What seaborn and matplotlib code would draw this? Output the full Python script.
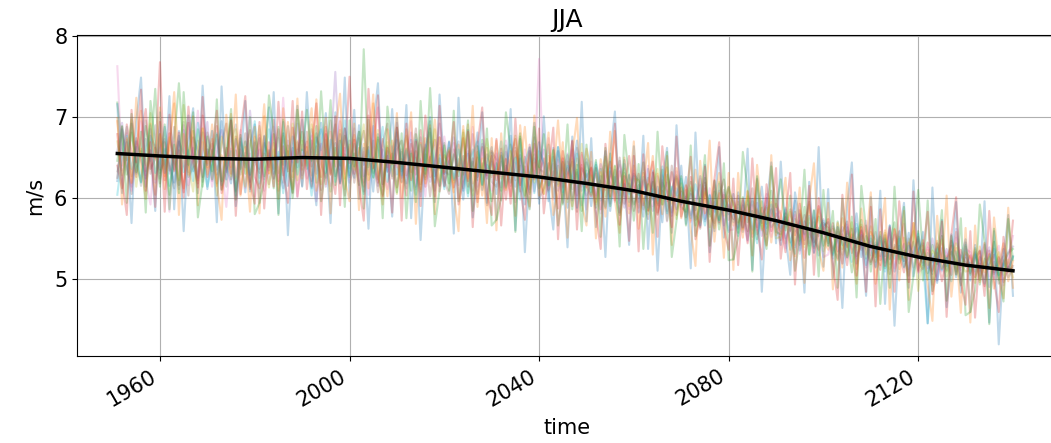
import matplotlib
matplotlib.use("Agg")
import matplotlib.pyplot as plt
import numpy as np
import pandas as pd
import seaborn as sns

years = list(range(1951, 2141))

m01 = [6.21, 6.85, 6.47, 6.92, 6.30, 6.58, 6.14, 6.77, 6.62, 6.35,
       6.88, 6.42, 6.19, 6.70, 6.55, 7.02, 6.33, 6.48, 6.81, 6.11,
       6.60, 6.29, 6.95, 6.40, 6.18, 6.73, 6.52, 6.07, 6.66, 6.91,
       6.36, 6.58, 7.12, 6.24, 6.49, 6.80, 6.15, 6.62, 6.38, 6.97,
       6.44, 6.12, 6.75, 6.59, 7.05, 6.31, 6.68, 6.20, 6.86, 6.47,
       6.25, 6.90, 6.41, 6.63, 6.08, 6.79, 6.52, 6.33, 7.10, 6.29,
       6.57, 6.18, 6.72, 6.45, 6.02, 6.61, 6.86, 6.27, 6.49, 6.14,
       6.70, 6.22, 6.48, 5.98, 6.55, 6.37, 6.81, 6.10, 6.44, 6.63,
       6.05, 6.52, 6.31, 6.77, 6.14, 6.40, 5.92, 6.58, 6.26, 6.69,
       6.38, 5.96, 6.62, 6.17, 6.45, 5.88, 6.30, 6.71, 6.09, 6.34,
       5.90, 6.41, 6.15, 6.58, 5.84, 6.26, 6.03, 6.47, 5.95, 6.30,
       6.21, 5.77, 6.36, 5.98, 6.14, 5.70, 6.29, 6.05, 5.86, 6.40,
       5.68, 6.12, 5.85, 6.27, 5.74, 6.03, 5.59, 6.18, 5.92, 5.80,
       6.05, 5.62, 5.91, 5.48, 5.99, 5.73, 6.14, 5.55, 5.86, 5.67,
       5.42, 5.88, 5.60, 5.97, 5.35, 5.71, 5.51, 5.84, 5.29, 5.66,
       5.70, 5.31, 5.58, 5.19, 5.64, 5.44, 5.81, 5.27, 5.53, 5.38,
       5.15, 5.52, 5.28, 5.66, 5.09, 5.41, 5.22, 5.57, 5.03, 5.36,
       5.44, 5.07, 5.31, 4.95, 5.38, 5.16, 5.55, 5.02, 5.27, 5.49,
       4.98, 5.33, 5.10, 5.42, 4.90, 5.21, 5.05, 5.37, 5.12, 5.28]

m02 = [6.95, 6.40, 6.72, 6.18, 6.61, 7.08, 6.33, 6.50, 6.04, 6.79,
       6.27, 6.64, 7.31, 6.45, 6.12, 6.57, 6.83, 6.22, 6.69, 6.38,
       6.91, 6.15, 6.53, 6.36, 7.04, 6.25, 6.60, 6.42, 6.13, 6.76,
       6.52, 7.16, 6.30, 6.68, 6.09, 6.47, 6.94, 6.26, 6.71, 6.35,
       6.63, 6.28, 7.22, 6.50, 6.17, 6.82, 6.39, 6.95, 6.24, 6.58,
       6.78, 6.35, 6.14, 6.66, 7.28, 6.23, 6.49, 6.02, 6.71, 6.44,
       6.19, 6.85, 6.32, 6.58, 6.11, 6.74, 6.26, 6.97, 6.35, 6.53,
       6.42, 6.07, 6.66, 6.29, 6.91, 6.18, 6.50, 6.03, 6.62, 6.26,
       6.71, 6.24, 6.49, 6.02, 6.58, 6.35, 6.88, 6.11, 6.44, 6.20,
       6.05, 6.52, 6.28, 6.96, 6.14, 6.37, 5.90, 6.49, 6.22, 6.61,
       6.34, 5.95, 6.48, 6.10, 6.27, 6.83, 5.98, 6.22, 5.81, 6.40,
       5.88, 6.31, 6.09, 6.52, 5.80, 6.15, 6.38, 5.93, 6.24, 5.75,
       6.10, 5.72, 6.35, 5.88, 6.06, 5.64, 5.97, 6.31, 5.78, 6.02,
       5.66, 5.95, 5.51, 6.08, 5.77, 6.22, 5.60, 5.88, 5.45, 5.93,
       5.79, 5.44, 5.70, 5.28, 5.85, 5.56, 5.92, 5.38, 5.63, 5.50,
       5.36, 5.62, 5.23, 5.75, 5.41, 5.55, 5.12, 5.67, 5.30, 5.58,
       5.48, 5.17, 5.60, 5.25, 5.39, 4.98, 5.51, 5.31, 5.69, 5.20,
       5.12, 5.36, 4.93, 5.47, 5.20, 5.29, 5.05, 5.58, 5.14, 5.33,
       5.26, 4.95, 5.40, 5.08, 5.31, 4.88, 5.18, 5.44, 4.97, 5.22]

m03 = [7.18, 6.66, 6.29, 6.81, 6.43, 6.20, 6.89, 6.54, 7.35, 6.31,
       6.47, 6.04, 6.72, 7.42, 6.58, 6.26, 6.39, 6.85, 6.14, 6.60,
       6.33, 6.78, 6.21, 6.55, 6.96, 6.08, 6.44, 6.70, 6.29, 6.51,
       6.74, 6.27, 6.59, 6.12, 6.88, 6.41, 6.65, 6.00, 6.53, 6.82,
       6.36, 6.71, 6.19, 7.32, 6.45, 6.08, 6.62, 6.40, 6.77, 6.28,
       6.55, 6.16, 7.84, 6.38, 6.71, 6.26, 6.04, 6.64, 6.42, 6.87,
       6.33, 6.61, 6.09, 6.79, 6.42, 6.23, 7.36, 6.37, 6.15, 6.68,
       6.18, 6.54, 6.27, 6.81, 6.06, 6.45, 6.22, 6.72, 6.35, 5.96,
       6.43, 6.09, 6.65, 6.19, 6.36, 6.80, 6.03, 6.27, 6.54, 6.12,
       6.27, 6.66, 6.01, 6.40, 5.92, 6.53, 6.18, 6.35, 5.84, 6.44,
       6.19, 5.88, 6.36, 6.02, 6.55, 6.07, 5.79, 6.31, 6.14, 5.92,
       6.07, 6.44, 5.85, 6.20, 5.93, 6.35, 5.72, 6.11, 6.28, 5.89,
       5.83, 6.20, 5.66, 5.99, 6.25, 5.77, 6.08, 5.61, 5.95, 6.14,
       5.90, 5.57, 6.01, 5.70, 5.84, 5.49, 5.96, 5.68, 6.09, 5.58,
       5.55, 5.81, 5.36, 5.74, 5.47, 5.89, 5.30, 5.62, 5.77, 5.41,
       5.60, 5.29, 5.71, 5.37, 5.52, 5.08, 5.46, 5.73, 5.25, 5.50,
       5.27, 5.58, 5.13, 5.44, 5.70, 5.19, 5.35, 5.04, 5.49, 6.10,
       5.30, 4.99, 5.42, 5.18, 5.53, 5.09, 5.34, 5.21, 4.92, 5.40,
       5.05, 5.38, 4.93, 5.25, 5.13, 5.46, 4.99, 5.20, 5.32, 5.37]

m04 = [6.40, 6.12, 6.91, 6.57, 6.26, 6.74, 7.10, 6.36, 6.48, 7.68,
       6.22, 6.80, 6.35, 6.59, 6.07, 6.93, 6.44, 6.18, 7.02, 6.52,
       6.45, 6.89, 6.11, 6.62, 6.30, 6.76, 6.05, 6.53, 6.84, 6.26,
       6.12, 6.55, 6.38, 6.97, 6.21, 6.64, 6.33, 7.20, 6.02, 6.48,
       6.70, 6.14, 6.53, 6.26, 6.88, 6.37, 6.05, 6.79, 6.48, 7.50,
       6.30, 6.62, 6.08, 7.35, 6.44, 6.19, 6.73, 6.38, 6.55, 6.13,
       6.48, 6.03, 6.67, 6.29, 6.84, 6.14, 6.50, 6.72, 6.08, 6.41,
       6.57, 6.13, 6.39, 6.74, 6.21, 6.49, 5.95, 6.63, 6.28, 6.52,
       6.22, 6.61, 5.98, 6.47, 6.73, 6.16, 6.39, 6.05, 6.67, 6.31,
       6.49, 6.10, 6.33, 5.87, 6.58, 6.24, 6.70, 6.03, 6.41, 6.15,
       6.02, 6.37, 5.86, 6.24, 6.45, 5.97, 6.33, 6.11, 6.52, 6.06,
       6.30, 5.91, 6.18, 6.45, 5.82, 6.09, 5.96, 6.32, 5.79, 6.13,
       5.97, 6.26, 5.79, 5.64, 6.12, 5.86, 6.22, 5.70, 6.04, 5.87,
       5.74, 6.03, 5.63, 5.92, 5.52, 5.85, 5.69, 6.00, 5.59, 5.81,
       5.67, 5.33, 5.86, 5.54, 5.72, 5.26, 5.59, 5.45, 5.90, 5.58,
       5.44, 5.69, 5.34, 5.55, 5.17, 5.62, 5.28, 5.41, 5.66, 5.21,
       5.39, 5.11, 5.46, 5.24, 5.61, 5.32, 5.08, 5.45, 5.27, 5.52,
       5.20, 5.45, 5.10, 5.32, 4.97, 5.25, 5.41, 5.06, 5.36, 5.15,
       5.29, 5.02, 5.19, 4.91, 5.35, 5.08, 5.27, 4.96, 5.15, 5.10]

m05 = [6.58, 6.93, 6.37, 6.14, 6.70, 6.46, 6.28, 6.85, 6.19, 6.62,
       6.73, 6.30, 6.50, 6.11, 6.84, 6.39, 6.62, 6.25, 6.57, 6.94,
       6.21, 6.56, 6.84, 6.32, 6.48, 6.10, 6.69, 6.38, 7.08, 6.44,
       6.60, 6.23, 6.47, 6.79, 6.35, 6.12, 6.71, 6.44, 6.92, 6.28,
       6.52, 6.85, 6.30, 6.67, 6.14, 6.58, 7.56, 6.35, 6.62, 6.19,
       6.41, 6.74, 6.27, 6.52, 6.89, 6.15, 6.60, 6.32, 6.46, 6.93,
       6.25, 6.52, 6.81, 6.14, 6.43, 6.66, 6.20, 6.38, 6.92, 6.30,
       6.48, 6.75, 6.16, 6.40, 6.58, 6.09, 6.36, 6.67, 6.24, 6.45,
       6.34, 6.13, 6.57, 6.38, 5.95, 6.49, 6.26, 6.62, 6.08, 6.42,
       6.60, 6.18, 6.42, 6.09, 6.29, 6.55, 5.97, 6.32, 6.14, 6.48,
       6.25, 6.03, 6.42, 6.19, 5.93, 6.35, 6.10, 5.88, 6.28, 6.15,
       5.95, 6.22, 6.01, 5.84, 6.27, 6.04, 6.19, 5.78, 6.12, 5.97,
       6.01, 5.79, 5.94, 6.16, 5.71, 5.98, 5.83, 6.09, 5.66, 5.92,
       5.82, 5.64, 5.97, 5.75, 5.61, 5.94, 5.53, 5.78, 5.70, 5.88,
       5.71, 5.50, 5.63, 5.39, 5.80, 5.48, 5.69, 5.33, 5.57, 5.74,
       5.52, 5.35, 5.48, 5.64, 5.26, 5.51, 5.39, 5.59, 5.14, 5.46,
       5.31, 5.47, 5.20, 5.38, 5.55, 5.26, 5.43, 5.12, 5.34, 5.49,
       5.28, 5.13, 5.50, 5.24, 5.09, 5.37, 5.19, 5.62, 5.11, 5.30,
       5.16, 5.31, 5.04, 5.22, 5.39, 5.01, 5.26, 5.13, 5.34, 5.40]

m06 = [6.25, 6.88, 6.42, 6.05, 6.74, 6.51, 6.96, 6.30, 6.62, 6.18,
       6.69, 6.34, 6.88, 6.16, 6.47, 6.03, 6.75, 6.58, 6.26, 6.81,
       6.54, 6.18, 6.67, 6.92, 6.23, 6.59, 6.36, 6.80, 6.11, 6.46,
       6.31, 6.76, 6.17, 6.50, 6.85, 6.28, 6.58, 6.06, 6.69, 6.40,
       6.82, 6.39, 6.64, 6.10, 6.55, 6.96, 6.27, 6.48, 6.03, 6.71,
       6.19, 6.56, 6.83, 6.29, 6.50, 6.07, 6.68, 6.92, 6.24, 6.60,
       6.71, 6.28, 6.44, 6.86, 6.17, 6.54, 6.02, 6.46, 6.75, 6.22,
       6.05, 6.60, 6.33, 6.52, 6.14, 6.79, 6.26, 6.43, 5.91, 6.58,
       6.47, 5.97, 6.40, 6.15, 6.62, 6.08, 6.51, 6.24, 6.75, 5.99,
       6.12, 6.43, 6.20, 6.58, 5.94, 6.29, 6.45, 5.83, 6.37, 6.26,
       6.38, 5.99, 6.21, 5.87, 6.33, 6.12, 6.50, 5.93, 6.18, 5.84,
       6.16, 5.97, 5.74, 6.31, 5.91, 6.22, 5.84, 6.40, 5.99, 6.08,
       5.76, 6.05, 5.90, 5.62, 6.19, 5.81, 5.69, 6.02, 6.23, 5.73,
       5.97, 5.70, 5.84, 5.59, 6.12, 5.64, 5.88, 5.42, 5.75, 5.98,
       5.48, 5.76, 5.59, 5.83, 5.42, 5.67, 5.95, 5.50, 5.36, 5.69,
       5.63, 5.40, 5.25, 5.58, 5.71, 5.32, 5.47, 5.60, 5.39, 5.18,
       5.42, 5.23, 5.54, 5.06, 5.37, 5.59, 5.15, 5.28, 5.46, 5.11,
       5.36, 5.22, 5.06, 5.44, 5.28, 5.11, 5.47, 5.31, 5.00, 5.26,
       5.07, 5.24, 5.35, 5.00, 5.18, 5.30, 4.94, 5.23, 5.08, 5.16]

m07 = [7.63, 6.34, 6.80, 6.09, 6.47, 6.95, 6.22, 5.92, 6.66, 6.37,
       6.45, 5.83, 6.70, 6.28, 6.90, 6.16, 6.53, 7.08, 6.31, 6.60,
       6.14, 6.72, 6.38, 5.89, 6.61, 6.27, 6.84, 6.12, 6.55, 6.02,
       6.78, 6.09, 6.42, 6.88, 6.17, 7.24, 6.36, 6.58, 6.01, 6.66,
       6.24, 6.77, 5.96, 6.49, 6.83, 6.15, 6.42, 6.98, 6.30, 6.59,
       6.86, 6.21, 6.57, 6.04, 6.75, 7.12, 6.33, 6.11, 6.64, 6.38,
       6.60, 6.26, 6.95, 6.11, 6.48, 6.02, 6.69, 6.33, 6.15, 6.76,
       6.37, 6.68, 6.01, 6.45, 6.24, 6.88, 6.14, 6.56, 6.33, 6.09,
       6.55, 6.27, 6.71, 6.02, 6.44, 6.19, 6.60, 5.88, 6.35, 7.72,
       6.21, 6.74, 5.98, 6.47, 6.12, 6.35, 6.60, 6.01, 6.53, 5.86,
       6.45, 6.07, 5.81, 6.33, 6.18, 5.95, 6.41, 6.22, 5.86, 6.34,
       5.83, 6.17, 6.40, 5.90, 6.02, 6.28, 5.71, 6.07, 6.33, 5.86,
       6.15, 5.70, 5.98, 6.24, 5.81, 6.12, 5.66, 5.89, 6.07, 5.60,
       5.61, 5.88, 5.74, 5.46, 5.91, 5.60, 5.83, 6.05, 5.52, 5.79,
       5.84, 5.38, 5.65, 5.79, 5.31, 5.60, 5.44, 5.76, 5.58, 5.27,
       5.30, 5.58, 5.46, 5.19, 5.67, 5.38, 5.25, 5.54, 5.72, 5.35,
       5.58, 5.25, 5.35, 5.62, 5.13, 5.44, 5.68, 5.20, 5.39, 5.07,
       5.14, 5.39, 5.25, 4.98, 5.43, 5.30, 5.05, 5.51, 5.22, 5.37,
       5.33, 5.06, 5.24, 5.45, 5.03, 5.28, 5.41, 4.92, 5.21, 5.53]

m08 = [6.33, 6.61, 6.88, 6.27, 6.52, 6.15, 6.73, 6.46, 6.90, 6.24,
       6.59, 6.38, 6.12, 6.65, 6.94, 6.32, 6.48, 6.71, 6.20, 6.55,
       6.67, 6.35, 6.50, 6.14, 6.70, 6.91, 6.29, 6.56, 6.20, 6.68,
       6.25, 6.68, 6.52, 6.36, 6.74, 6.19, 6.89, 6.33, 6.60, 6.15,
       6.57, 6.21, 6.80, 6.42, 6.25, 6.63, 6.91, 6.18, 6.54, 6.37,
       6.50, 6.82, 6.19, 6.46, 6.31, 6.72, 6.14, 6.58, 6.27, 6.81,
       6.44, 6.12, 6.58, 6.36, 6.75, 6.26, 6.51, 6.09, 6.62, 6.33,
       6.29, 6.51, 6.70, 6.12, 6.42, 6.60, 6.05, 6.38, 6.54, 6.20,
       6.14, 6.45, 6.28, 6.66, 6.22, 6.53, 6.31, 6.07, 6.49, 6.36,
       6.32, 6.08, 6.51, 6.26, 6.19, 6.45, 6.11, 6.62, 6.24, 6.03,
       6.15, 6.30, 5.97, 6.40, 6.09, 6.21, 6.46, 6.02, 6.29, 5.94,
       6.11, 5.86, 6.25, 6.03, 5.79, 6.19, 6.08, 5.82, 6.26, 6.02,
       5.92, 6.09, 5.73, 5.87, 6.15, 5.80, 5.95, 5.68, 6.10, 5.85,
       5.70, 5.92, 5.58, 5.81, 5.96, 5.55, 5.77, 5.90, 5.64, 5.72,
       5.59, 5.77, 5.45, 5.62, 5.51, 5.79, 5.41, 5.70, 5.53, 5.64,
       5.41, 5.65, 5.51, 5.30, 5.59, 5.47, 5.63, 5.36, 5.44, 5.29,
       5.45, 5.28, 5.51, 5.18, 5.42, 5.35, 5.22, 5.50, 5.14, 5.33,
       5.17, 5.32, 5.21, 5.39, 5.12, 5.25, 5.33, 5.09, 5.29, 5.20,
       5.20, 5.09, 5.27, 5.14, 5.30, 5.06, 5.19, 5.28, 5.02, 5.13]

m09 = [6.70, 6.28, 6.53, 6.97, 6.14, 6.61, 6.41, 7.05, 6.23, 6.79,
       6.36, 6.75, 6.49, 6.22, 7.15, 6.43, 6.08, 6.62, 6.86, 6.29,
       6.58, 6.03, 6.76, 6.47, 6.27, 6.85, 6.40, 6.14, 6.71, 6.50,
       6.89, 6.42, 6.13, 6.60, 6.31, 6.77, 6.49, 6.92, 6.22, 6.71,
       6.40, 6.91, 6.55, 6.17, 6.72, 6.29, 6.50, 6.84, 6.11, 6.66,
       6.35, 6.58, 6.91, 6.22, 6.40, 6.84, 6.17, 6.69, 6.36, 6.05,
       6.55, 6.77, 6.24, 6.50, 6.08, 6.62, 6.40, 6.85, 6.20, 6.47,
       6.62, 6.19, 6.38, 6.84, 6.27, 6.03, 6.57, 6.31, 6.73, 6.40,
       6.28, 6.53, 6.12, 6.40, 6.77, 6.25, 6.01, 6.55, 6.19, 6.46,
       6.05, 6.38, 6.60, 6.15, 6.44, 5.95, 6.48, 6.22, 6.67, 6.09,
       6.28, 5.92, 6.17, 6.51, 6.00, 6.39, 6.13, 6.36, 5.90, 6.24,
       6.22, 6.00, 5.80, 6.15, 6.36, 5.92, 6.27, 5.98, 5.74, 6.18,
       5.86, 6.14, 5.94, 5.70, 6.08, 5.92, 5.63, 6.20, 5.84, 6.11,
       5.93, 5.68, 5.80, 6.02, 5.56, 5.87, 5.62, 5.79, 5.95, 5.50,
       5.52, 5.69, 5.83, 5.42, 5.64, 5.39, 5.75, 5.55, 5.86, 5.34,
       5.58, 5.33, 5.61, 5.44, 5.29, 5.70, 5.36, 5.52, 5.40, 5.65,
       5.21, 5.40, 5.57, 5.12, 5.33, 5.52, 5.26, 5.44, 5.59, 4.85,
       5.41, 5.17, 5.35, 5.27, 5.49, 5.03, 5.26, 5.44, 5.18, 5.09,
       5.11, 5.36, 4.99, 5.19, 5.27, 5.12, 5.33, 5.05, 5.24, 5.02]

m10 = [6.04, 6.52, 6.77, 6.36, 6.63, 6.19, 6.58, 6.90, 6.31, 6.48,
       6.61, 6.15, 6.44, 6.77, 6.32, 6.59, 6.21, 6.93, 6.47, 6.14,
       6.42, 6.80, 6.16, 6.35, 6.58, 6.03, 6.74, 6.45, 6.28, 6.95,
       6.18, 6.49, 6.85, 6.30, 6.57, 6.06, 6.42, 6.76, 6.29, 6.60,
       6.48, 6.03, 6.69, 6.85, 6.31, 6.72, 6.20, 6.53, 6.96, 6.26,
       6.67, 6.43, 6.05, 6.59, 6.26, 6.51, 6.88, 6.20, 6.43, 6.72,
       6.28, 6.59, 6.40, 6.04, 6.66, 6.35, 6.81, 6.19, 6.53, 6.11,
       6.46, 6.24, 6.60, 6.36, 6.02, 6.55, 6.70, 6.17, 6.41, 6.29,
       6.37, 6.70, 6.15, 6.32, 6.50, 5.98, 6.44, 6.63, 6.06, 6.58,
       6.44, 6.15, 6.29, 6.63, 6.07, 6.40, 6.22, 6.55, 5.91, 6.30,
       6.07, 6.44, 6.12, 5.89, 6.37, 6.16, 5.94, 6.42, 6.05, 6.27,
       6.04, 6.26, 5.88, 6.11, 5.97, 6.39, 5.81, 6.14, 6.03, 6.24,
       5.95, 5.75, 6.17, 5.91, 5.66, 6.04, 5.88, 5.72, 5.98, 5.58,
       5.86, 5.53, 5.75, 5.97, 5.68, 5.44, 5.81, 5.63, 5.92, 5.70,
       5.63, 5.86, 5.48, 5.31, 5.70, 5.55, 5.78, 5.40, 5.61, 5.72,
       5.49, 5.25, 5.64, 5.42, 5.56, 5.21, 5.68, 5.45, 5.17, 5.53,
       5.33, 5.54, 5.09, 5.38, 5.25, 5.50, 5.14, 5.41, 5.29, 5.56,
       5.22, 4.45, 5.18, 5.37, 5.11, 5.26, 4.97, 5.34, 5.19, 5.42,
       5.09, 5.30, 5.14, 4.94, 5.25, 5.37, 5.04, 5.19, 5.11, 5.27]

m11 = [7.16, 6.06, 6.69, 5.69, 6.94, 7.49, 6.24, 6.59, 5.84, 7.06,
       6.31, 7.26, 5.86, 6.83, 5.59, 6.69, 7.11, 6.06, 7.39, 6.41,
       6.83, 5.70, 7.38, 6.23, 6.98, 5.90, 6.43, 7.20, 6.08, 6.70,
       5.94, 6.77, 6.34, 7.31, 5.81, 6.94, 5.54, 6.59, 7.14, 6.14,
       7.31, 6.39, 5.91, 6.93, 6.59, 5.69, 7.06, 6.18, 7.49, 6.01,
       7.09, 5.99, 6.62, 5.62, 6.87, 7.42, 6.17, 6.52, 5.77, 6.99,
       6.20, 7.15, 5.75, 6.72, 5.48, 6.58, 7.00, 5.95, 7.28, 6.30,
       6.69, 5.56, 7.24, 6.09, 6.84, 5.76, 6.29, 7.06, 5.94, 6.56,
       5.73, 6.56, 6.13, 7.10, 5.60, 6.73, 5.33, 6.38, 6.93, 5.93,
       7.01, 6.09, 5.61, 6.63, 6.29, 5.39, 6.76, 5.88, 7.19, 5.71,
       6.74, 5.64, 6.27, 5.27, 6.52, 7.07, 5.82, 6.17, 5.42, 6.64,
       5.82, 6.77, 5.37, 6.34, 5.10, 6.20, 6.62, 5.57, 6.90, 5.92,
       6.26, 5.13, 6.81, 5.66, 6.41, 5.33, 5.86, 6.63, 5.51, 6.13,
       5.24, 6.07, 5.64, 6.61, 5.11, 6.24, 4.84, 5.89, 6.44, 5.44,
       6.45, 5.53, 5.05, 6.07, 5.73, 4.83, 6.20, 5.32, 6.63, 5.15,
       6.11, 5.01, 5.64, 4.64, 5.89, 6.44, 5.19, 5.54, 4.79, 6.01,
       5.14, 6.09, 4.69, 5.66, 4.42, 5.52, 5.94, 4.89, 6.22, 5.24,
       5.58, 4.45, 6.13, 4.98, 5.73, 4.65, 5.18, 5.95, 4.83, 5.45,
       4.59, 5.42, 4.99, 5.96, 4.46, 5.59, 4.19, 5.24, 5.79, 4.79]

m12 = [6.99, 5.92, 6.74, 6.19, 7.24, 6.39, 5.99, 6.92, 6.49, 7.12,
       6.11, 6.63, 7.17, 5.79, 6.79, 6.29, 7.01, 5.91, 6.86, 6.43,
       6.73, 6.18, 5.73, 7.03, 6.38, 7.28, 6.03, 6.63, 5.83, 6.88,
       5.81, 7.01, 6.31, 6.79, 5.99, 7.11, 6.54, 6.11, 7.23, 6.24,
       6.61, 7.11, 6.09, 6.39, 6.99, 5.81, 6.83, 7.29, 6.23, 5.96,
       6.92, 5.85, 6.67, 6.12, 7.17, 6.32, 5.92, 6.85, 6.42, 7.05,
       6.00, 6.52, 7.06, 5.68, 6.68, 6.18, 6.90, 5.80, 6.75, 6.32,
       6.59, 6.04, 5.59, 6.89, 6.24, 7.14, 5.89, 6.49, 5.69, 6.74,
       5.60, 6.80, 6.10, 6.58, 5.78, 6.90, 6.33, 5.90, 7.02, 6.03,
       6.31, 6.81, 5.79, 6.09, 6.69, 5.51, 6.53, 6.99, 5.93, 5.66,
       6.57, 5.50, 6.32, 5.77, 6.82, 5.97, 5.57, 6.50, 6.07, 6.70,
       5.62, 6.14, 6.68, 5.30, 6.30, 5.80, 6.52, 5.42, 6.37, 5.94,
       6.16, 5.61, 5.16, 6.46, 5.81, 6.71, 5.46, 6.06, 5.26, 6.31,
       5.11, 6.31, 5.61, 6.09, 5.29, 6.41, 5.84, 5.41, 6.53, 5.54,
       5.75, 6.25, 5.23, 5.53, 6.13, 4.95, 5.97, 6.43, 5.37, 5.10,
       5.94, 4.87, 5.69, 5.14, 6.19, 5.34, 4.94, 5.87, 5.44, 6.07,
       4.94, 5.46, 6.00, 4.62, 5.62, 5.12, 5.84, 4.74, 5.69, 5.26,
       5.48, 4.93, 4.48, 5.78, 5.13, 6.03, 4.78, 5.38, 4.58, 5.63,
       4.46, 5.66, 4.96, 5.44, 4.64, 5.76, 5.19, 4.76, 5.88, 4.89]

m13 = [6.46, 6.89, 5.94, 7.04, 6.32, 6.82, 5.82, 7.20, 6.66, 6.14,
       6.91, 5.86, 6.66, 6.06, 7.31, 6.41, 7.06, 5.76, 6.21, 6.76,
       6.23, 7.22, 6.10, 6.53, 7.10, 5.98, 6.78, 6.30, 7.00, 5.80,
       5.94, 6.21, 7.27, 6.81, 5.79, 6.97, 6.37, 6.07, 7.09, 6.59,
       7.09, 6.46, 6.89, 5.96, 6.36, 7.21, 6.16, 6.71, 5.89, 6.96,
       6.39, 6.82, 5.87, 6.97, 6.25, 6.75, 5.75, 7.13, 6.59, 6.07,
       6.80, 5.75, 6.55, 5.95, 7.20, 6.30, 6.95, 5.65, 6.10, 6.65,
       6.09, 7.08, 5.96, 6.39, 6.96, 5.84, 6.64, 6.16, 6.86, 5.66,
       5.73, 6.00, 7.06, 6.60, 5.58, 6.76, 6.16, 5.86, 6.88, 6.38,
       6.79, 6.16, 6.59, 5.66, 6.06, 6.91, 5.86, 6.41, 5.59, 6.66,
       6.04, 6.47, 5.52, 6.62, 5.90, 6.40, 5.40, 6.78, 6.24, 5.72,
       6.42, 5.37, 6.17, 5.57, 6.82, 5.92, 6.57, 5.27, 5.72, 6.27,
       5.66, 6.65, 5.53, 5.96, 6.53, 5.41, 6.21, 5.73, 6.43, 5.23,
       5.24, 5.51, 6.57, 6.11, 5.09, 6.27, 5.67, 5.37, 6.39, 5.89,
       6.23, 5.60, 6.03, 5.10, 5.50, 6.35, 5.30, 5.85, 5.03, 6.10,
       5.41, 5.84, 4.89, 5.99, 5.27, 5.77, 4.77, 6.15, 5.61, 5.09,
       5.74, 4.69, 5.49, 4.89, 6.14, 5.24, 5.89, 4.59, 5.04, 5.59,
       4.98, 5.97, 4.85, 5.28, 5.85, 4.73, 5.53, 5.05, 5.75, 4.55,
       4.59, 4.86, 5.92, 5.46, 4.44, 5.62, 5.02, 4.72, 5.74, 5.24]

m14 = [6.79, 6.24, 5.79, 7.09, 6.44, 7.34, 6.09, 6.69, 5.89, 6.94,
       5.83, 7.03, 6.33, 6.81, 6.01, 7.13, 6.56, 6.13, 7.25, 6.26,
       6.58, 7.08, 6.06, 6.36, 6.96, 5.78, 6.80, 7.26, 6.20, 5.93,
       6.94, 5.87, 6.69, 6.14, 7.19, 6.34, 5.94, 6.87, 6.44, 7.07,
       6.11, 6.63, 7.17, 5.79, 6.79, 6.29, 7.01, 5.91, 6.86, 6.43,
       6.72, 6.17, 5.72, 7.02, 6.37, 7.27, 6.02, 6.62, 5.82, 6.87,
       5.72, 6.92, 6.22, 6.70, 5.90, 7.02, 6.45, 6.02, 7.14, 6.15,
       6.44, 6.94, 5.92, 6.22, 6.82, 5.64, 6.66, 7.12, 6.06, 5.79,
       6.73, 5.66, 6.48, 5.93, 6.98, 6.13, 5.73, 6.66, 6.23, 6.86,
       5.81, 6.33, 6.87, 5.49, 6.49, 5.99, 6.71, 5.61, 6.56, 6.13,
       6.37, 5.82, 5.37, 6.67, 6.02, 6.92, 5.67, 6.27, 5.47, 6.52,
       5.34, 6.54, 5.84, 6.32, 5.52, 6.64, 6.07, 5.64, 6.76, 5.77,
       6.01, 6.51, 5.49, 5.79, 6.39, 5.21, 6.23, 6.69, 5.63, 5.36,
       6.24, 5.17, 5.99, 5.44, 6.49, 5.64, 5.24, 6.17, 5.74, 6.37,
       5.25, 5.77, 6.31, 4.93, 5.93, 5.43, 6.15, 5.05, 6.00, 5.57,
       5.74, 5.19, 4.74, 6.04, 5.39, 6.29, 5.04, 5.64, 4.84, 5.89,
       4.66, 5.86, 5.16, 5.64, 4.84, 5.96, 5.39, 4.96, 6.08, 5.09,
       5.33, 5.83, 4.81, 5.11, 5.71, 4.53, 5.55, 6.01, 4.95, 4.68,
       5.59, 4.52, 5.34, 4.79, 5.84, 4.99, 4.59, 5.52, 5.09, 5.72]

members = [m01, m02, m03, m04, m05, m06, m07, m08, m09, m10,
           m11, m12, m13, m14]

mean_years = [1951, 1960, 1970, 1980, 1990, 2000, 2010, 2020, 2030, 2040,
              2050, 2060, 2070, 2080, 2090, 2100, 2110, 2120, 2130, 2140]
mean_vals = [6.55, 6.52, 6.49, 6.48, 6.50, 6.49, 6.44, 6.38, 6.32, 6.26,
             6.18, 6.09, 5.96, 5.85, 5.72, 5.57, 5.40, 5.27, 5.17, 5.10]

xticks = [1960, 2000, 2040, 2080, 2120]
yticks = [5, 6, 7, 8]

rows = []
for i, vals in enumerate(members):
    for y, v in zip(years, vals):
        rows.append((y, v, i))
df = pd.DataFrame(rows, columns=["time", "value", "member"])
dfm = pd.DataFrame({"time": mean_years, "value": mean_vals})

plt.rcParams["font.family"] = ["DejaVu Sans"]
fig = plt.figure(figsize=(10.51, 4.43), dpi=100)
ax = fig.add_axes([0.0733, 0.1953, 0.932, 0.7246])

palette = sns.color_palette("tab10", len(members))
sns.lineplot(data=df, x="time", y="value", hue="member", palette=palette,
             estimator=None, units="member", alpha=0.28, linewidth=1.5,
             legend=False, ax=ax)
sns.lineplot(data=dfm, x="time", y="value", color="black", linewidth=2.5,
             estimator=None, ax=ax)

ax.set_xlim(1942.5, 2149.2)
ax.set_ylim(4.04, 8.01)
ax.set_xticks(xticks)
ax.set_yticks(yticks)
ax.set_xticklabels([str(t) for t in xticks], rotation=30, ha="right")
ax.tick_params(labelsize=15)
ax.grid(True, color="#b0b0b0", linewidth=0.8)
ax.set_axisbelow(True)
ax.set_xlabel("time", fontsize=15, labelpad=6)
ax.set_ylabel("m/s", fontsize=15, labelpad=7)
ax.set_title("JJA", fontsize=18)

fig.savefig("out.png", dpi=100)
